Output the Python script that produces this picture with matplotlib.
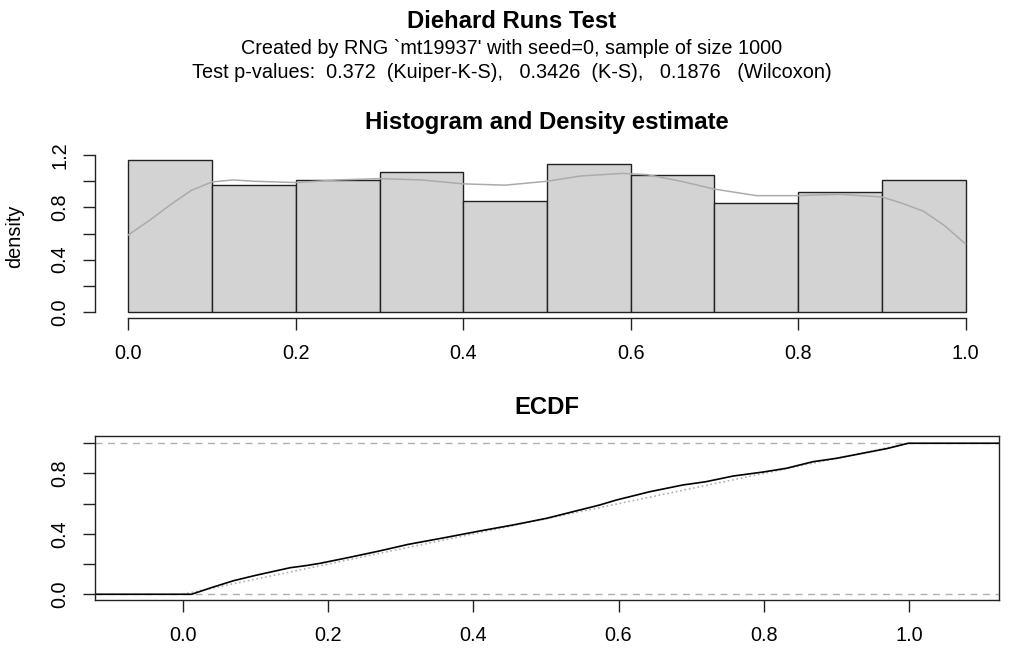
import numpy as np
import matplotlib
matplotlib.use("Agg")
from matplotlib import pyplot as plt

plt.rcParams['font.family'] = ['Liberation Sans', 'DejaVu Sans']

# histogram of p-values (10 bins on [0,1])
bin_edges = [0.0, 0.1, 0.2, 0.3, 0.4, 0.5, 0.6, 0.7, 0.8, 0.9, 1.0]
bin_density = [1.16, 0.97, 1.01, 1.07, 0.85, 1.13, 1.05, 0.83, 0.92, 1.01]

# kernel density estimate
dens_x = [0.0, 0.025, 0.05, 0.075, 0.1, 0.125, 0.15, 0.2, 0.25, 0.3, 0.35,
          0.4, 0.45, 0.5, 0.54, 0.59, 0.62, 0.66, 0.7, 0.75, 0.8, 0.85,
          0.9, 0.925, 0.95, 0.975, 1.0]
dens_y = [0.59, 0.70, 0.82, 0.93, 0.995, 1.01, 1.0, 0.99, 1.01, 1.02, 1.01,
          0.98, 0.97, 1.0, 1.04, 1.06, 1.05, 1.0, 0.94, 0.89, 0.89, 0.9,
          0.88, 0.83, 0.77, 0.66, 0.52]

# empirical cdf
ecdf_x = [-0.13, 0.012, 0.04, 0.07, 0.1, 0.148, 0.17, 0.189, 0.23, 0.271,
          0.31, 0.363, 0.41, 0.455, 0.501, 0.54, 0.574, 0.597, 0.643, 0.689,
          0.72, 0.758, 0.8, 0.831, 0.868, 0.9, 0.941, 0.97, 0.999, 1.13]
ecdf_y = [0.0, 0.0, 0.045, 0.09, 0.125, 0.176, 0.19, 0.205, 0.245, 0.287,
          0.33, 0.377, 0.42, 0.459, 0.503, 0.55, 0.591, 0.624, 0.679, 0.724,
          0.745, 0.783, 0.81, 0.834, 0.878, 0.9, 0.938, 0.965, 1.0, 1.0]

W, H = 1023, 648
fig = plt.figure(figsize=(W/100, H/100), dpi=100)

def rect(l, t, r, b):
    return [l/W, 1-b/H, (r-l)/W, (b-t)/H]

dark = '#222222'
fs = 14.3
tfs = 17.2

fig.text(0.5, 1-21/H, 'Diehard Runs Test', ha='center', va='center',
         fontsize=tfs, fontweight='bold')
fig.text(0.5, 1-48/H, "Created by RNG `mt19937' with seed=0, sample of size 1000",
         ha='center', va='center', fontsize=fs)
fig.text(0.5, 1-73/H, 'Test p-values:  0.372  (Kuiper-K-S),   0.3426  (K-S),   0.1876   (Wilcoxon)',
         ha='center', va='center', fontsize=fs)

# --- histogram panel
ax1 = fig.add_axes(rect(95, 154, 999, 318))
ax1.bar(bin_edges[:-1], bin_density, width=0.1, align='edge',
        color='#d3d3d3', edgecolor=dark, linewidth=1.0)
ax1.plot(dens_x, dens_y, color='#ababab', linewidth=1.1)
ax1.set_xlim(-0.04, 1.04)
ax1.set_ylim(-0.0465, 1.2085)
ax1.spines['top'].set_visible(False)
ax1.spines['right'].set_visible(False)
ax1.spines['left'].set_bounds(0, 1.2)
ax1.spines['bottom'].set_bounds(0, 1)
ax1.set_xticks([0, 0.2, 0.4, 0.6, 0.8, 1.0])
ax1.set_xticklabels(['0.0', '0.2', '0.4', '0.6', '0.8', '1.0'])
ax1.set_yticks([0, 0.2, 0.4, 0.6, 0.8, 1.0, 1.2])
ax1.set_yticklabels(['0.0', '', '0.4', '', '0.8', '', '1.2'], rotation=90, va='center')
ax1.set_ylabel('density', fontsize=fs, labelpad=19)
ax1.set_title('Histogram and Density estimate', fontsize=tfs, fontweight='bold', pad=18)

# --- ecdf panel
ax2 = fig.add_axes(rect(95, 436, 999, 600))
ax2.axhline(0, color='#b0b0b0', linestyle=(0, (5, 4)), linewidth=1.0)
ax2.axhline(1, color='#b0b0b0', linestyle=(0, (5, 4)), linewidth=1.0)
ax2.plot([0, 1], [0, 1], color='#b0b0b0', linestyle=':', linewidth=1.2)
ax2.plot(ecdf_x, ecdf_y, color='black', linewidth=1.2)
ax2.set_xlim(-0.121, 1.124)
ax2.set_ylim(-0.038, 1.048)
ax2.set_xticks([0, 0.2, 0.4, 0.6, 0.8, 1.0])
ax2.set_xticklabels(['0.0', '0.2', '0.4', '0.6', '0.8', '1.0'])
ax2.set_yticks([0, 0.2, 0.4, 0.6, 0.8, 1.0])
ax2.set_yticklabels(['0.0', '', '0.4', '', '0.8', ''], rotation=90, va='center')
ax2.set_title('ECDF', fontsize=tfs, fontweight='bold', pad=16)

for ax in (ax1, ax2):
    for s in ax.spines.values():
        s.set_color(dark)
        s.set_linewidth(1.0)
    ax.tick_params(direction='out', length=8.4, width=1.0, color=dark,
                   labelsize=fs, pad=10)

fig.savefig('out.png', dpi=100)
